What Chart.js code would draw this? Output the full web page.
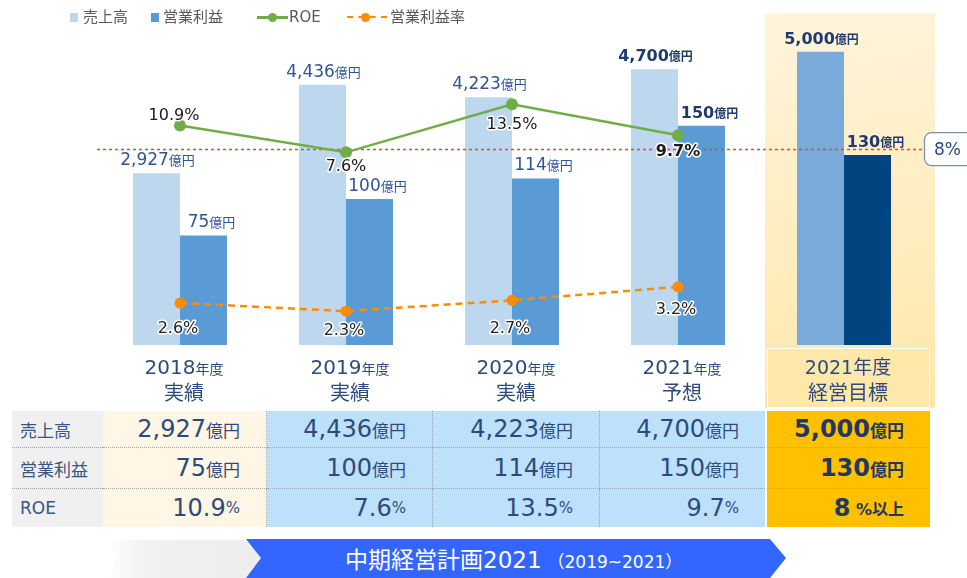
<!DOCTYPE html>
<html lang="ja">
<head>
<meta charset="utf-8">
<script src="https://cdn.jsdelivr.net/npm/chart.js@4.4.1/dist/chart.umd.min.js"></script>
<style>
  html, body { margin: 0; padding: 0; background: #fff; }
  body {
    width: 967px; height: 578px; position: relative; overflow: hidden;
    font-family: "DejaVu Sans", "Noto Sans CJK JP", sans-serif;
  }
  .abs { position: absolute; }
  #goalPanel {
    left: 765px; top: 13px; width: 170px; height: 395px;
    background: linear-gradient(170deg, #FFF4DC 0%, #FFEDC0 55%, #FFE7AC 100%);
  }
  #goalHead {
    left: 767px; top: 348px; width: 161px; height: 58px;
    background: #FFE8AA; border: 1.5px solid #fff;
  }
  #chartBox { left: 0; top: 0; width: 967px; height: 410px; }
  .lg { font-size: 15px; color: #595959; line-height: 18px; top: 8px; }
  .cell {
    box-sizing: border-box; display: flex; align-items: center;
    justify-content: flex-end; padding-right: 26px; color: #2E4A7D;
    white-space: nowrap;
  }
  .rowName { justify-content: flex-start; padding-left: 8px; font-size: 17px; color: #3A5582; }
</style>
</head>
<body>
<div id="goalPanel" class="abs"></div>
<div id="goalHead" class="abs"></div>

<div id="chartBox" class="abs"><canvas id="chart" width="967" height="410"></canvas></div>

<!-- legend -->
<div class="abs" style="left:70px;top:13px;width:8px;height:9px;background:#BDD7EE"></div>
<div class="abs lg" style="left:83px">売上高</div>
<div class="abs" style="left:151px;top:13px;width:8px;height:9px;background:#5B9BD5"></div>
<div class="abs lg" style="left:163px">営業利益</div>
<div class="abs" style="left:257px;top:16px;width:31px;height:2.5px;background:#70AD47"></div>
<div class="abs" style="left:268px;top:13px;width:9px;height:9px;border-radius:50%;background:#70AD47"></div>
<div class="abs lg" style="left:289px">ROE</div>
<div class="abs" style="left:347px;top:16px;width:40px;height:0;border-top:2.5px dashed #FF8C00"></div>
<div class="abs" style="left:361px;top:13px;width:9px;height:9px;border-radius:50%;background:#FF8C00"></div>
<div class="abs lg" style="left:390px">営業利益率</div>

<div id="table"></div>

<svg class="abs" style="left:0;top:530px" width="967" height="48">
  <defs>
    <linearGradient id="greyFade" x1="0" x2="1" y1="0" y2="0">
      <stop offset="0" stop-color="#ffffff"/>
      <stop offset="0.25" stop-color="#F1F1F1"/>
      <stop offset="1" stop-color="#EDEDED"/>
    </linearGradient>
  </defs>
  <polygon points="108,10 247,10 262,28 247,48 108,48 116,28" fill="url(#greyFade)"/>
  <polygon points="246,9 770,9 786,28 770,48 246,48 261,28" fill="#3366FF"/>
  <text x="345" y="38" fill="#fff" font-size="23" font-family="'DejaVu Sans','Noto Sans CJK JP',sans-serif">中期経営計画2021<tspan font-size="17" dx="6">（2019~2021）</tspan></text>
</svg>

<script>
const FF = '"DejaVu Sans", "Noto Sans CJK JP", sans-serif';

// data
const years = ['2018', '2019', '2020', '2021', '2021'];
const kinds = ['実績', '実績', '実績', '予想', '経営目標'];
const sales = [2927, 4436, 4223, 4700, 5000];          // 売上高 (億円)
const profit = [75, 100, 114, 150, 130];                // 営業利益 (億円)
const roe = [10.9, 7.6, 13.5, 9.7, null];               // ROE (%)
const margin = [2.6, 2.3, 2.7, 3.2, null];              // 営業利益率 (%)
const roeTarget = 8;                                    // 目標 ROE (%以上)

// styling per category
const emphasis = [false, false, false, true, true];
const roeLabelDy = [-6, 19, 25, 21];
const marginLabelDy = [30, 24, 33, 27];

const salesColors = ['#BDD7EE', '#BDD7EE', '#BDD7EE', '#BDD7EE', '#7AAAD9'];
const profitColors = ['#5B9BD5', '#5B9BD5', '#5B9BD5', '#5B9BD5', '#00457F'];

const fmt = (v) => v.toLocaleString('en-US');

function drawParts(ctx, parts, x, y, align) {
  let w = 0;
  parts.forEach((p) => {
    ctx.font = p.font;
    p.w = ctx.measureText(p.text).width;
    w += p.w;
  });
  let cx = align === 'center' ? x - w / 2 : x;
  ctx.textAlign = 'left';
  ctx.textBaseline = 'alphabetic';
  parts.forEach((p) => {
    ctx.font = p.font;
    if (p.halo) {
      ctx.strokeStyle = '#fff';
      ctx.lineWidth = p.halo;
      ctx.lineJoin = 'round';
      ctx.strokeText(p.text, cx, y);
    }
    ctx.fillStyle = p.color;
    ctx.fillText(p.text, cx, y);
    cx += p.w;
  });
}

const overlay = {
  id: 'overlay',
  afterDatasetDraw(chart, args) {
    // red 8% reference line, over the bars but under the lines
    if (args.index !== 2) return;
    const { ctx, chartArea } = chart;
    const y = Math.round(chart.scales.yRoe.getPixelForValue(roeTarget)) + 0.5;
    ctx.save();
    ctx.strokeStyle = '#FF3B30';
    ctx.lineWidth = 1.3;
    ctx.setLineDash([3, 3]);
    ctx.beginPath();
    ctx.moveTo(chartArea.left, y);
    ctx.lineTo(chartArea.right - 3, y);
    ctx.stroke();
    ctx.restore();
  },
  afterDatasetsDraw(chart) {
    const { ctx } = chart;
    const x = chart.scales.x;
    ctx.save();

    // 8% tag box
    const ty = chart.scales.yRoe.getPixelForValue(roeTarget);
    ctx.strokeStyle = '#8091AA';
    ctx.lineWidth = 1.3;
    ctx.beginPath();
    ctx.roundRect(924.5, ty - 16.5, 60, 33, 7);
    ctx.fillStyle = '#fff';
    ctx.fill();
    ctx.stroke();
    drawParts(ctx, [{ text: roeTarget + '%', font: '17px ' + FF, color: '#2E4A7D' }], 934, ty + 6, 'left');

    // bar value labels
    const salesMeta = chart.getDatasetMeta(2);
    const profitMeta = chart.getDatasetMeta(3);
    sales.forEach((v, i) => {
      const b = salesMeta.data[i];
      const em = emphasis[i];
      const col = em ? '#1F3B6E' : '#2F5597';
      drawParts(ctx, [
        { text: fmt(v), font: (em ? 'bold 16px ' : '17px ') + FF, color: col },
        { text: '億円', font: (em ? 'bold 12px ' : '13px ') + FF, color: col },
      ], b.x + 1, b.y - 8, 'center');
    });
    profit.forEach((v, i) => {
      const b = profitMeta.data[i];
      const em = emphasis[i];
      const col = em ? '#1F3B6E' : '#2F5597';
      drawParts(ctx, [
        { text: fmt(v), font: (em ? 'bold 16px ' : '17px ') + FF, color: col },
        { text: '億円', font: (em ? 'bold 12px ' : '13px ') + FF, color: col },
      ], b.x + 8, b.y - 8, 'center');
    });

    // line point labels
    const roeMeta = chart.getDatasetMeta(0);
    const marginMeta = chart.getDatasetMeta(1);
    roe.forEach((v, i) => {
      if (v === null) return;
      const p = roeMeta.data[i];
      drawParts(ctx, [{
        text: v.toFixed(1) + '%',
        font: (emphasis[i] ? 'bold 16px ' : '16px ') + FF,
        color: '#1A1A1A', halo: 3,
      }], p.x + (i === 0 ? -6 : 0), p.y + roeLabelDy[i], 'center');
    });
    margin.forEach((v, i) => {
      if (v === null) return;
      const p = marginMeta.data[i];
      drawParts(ctx, [{ text: v.toFixed(1) + '%', font: '16px ' + FF, color: '#222', halo: 3 }],
        p.x - 2, p.y + marginLabelDy[i], 'center');
    });

    // category labels
    years.forEach((yr, i) => {
      const cx = x.getPixelForValue(i);
      const goal = i === years.length - 1;
      drawParts(ctx, [
        { text: yr, font: (goal ? '19px ' : '20px ') + FF, color: '#2E4A7D' },
        { text: '年度', font: (goal ? '19px ' : '14px ') + FF, color: '#2E4A7D' },
      ], cx + 4, 374, 'center');
      drawParts(ctx, [{ text: kinds[i], font: '20px ' + FF, color: '#2E4A7D' }],
        cx + 4, 400, 'center');
    });
    ctx.restore();
  },
};

const ctx = document.getElementById('chart').getContext('2d');
const chart = new Chart(ctx, {
  type: 'bar',
  data: {
    labels: years.map((y, i) => y + '年度 ' + kinds[i]),
    datasets: [
      {
        type: 'line', label: 'ROE', data: roe, yAxisID: 'yRoe', order: 0,
        borderColor: '#70AD47', backgroundColor: '#70AD47', borderWidth: 2.5,
        pointRadius: 6, pointBorderWidth: 0, tension: 0,
      },
      {
        type: 'line', label: '営業利益率', data: margin, yAxisID: 'yMargin', order: 0,
        borderColor: '#FF8C00', backgroundColor: '#FF8C00', borderWidth: 2.5,
        borderDash: [7, 5], pointRadius: 5.5, pointBorderWidth: 0, tension: 0,
      },
      {
        label: '売上高', data: sales, yAxisID: 'ySales', order: 1,
        backgroundColor: salesColors, borderWidth: 0,
        barPercentage: 1, categoryPercentage: 0.566,
      },
      {
        label: '営業利益', data: profit, yAxisID: 'yProfit', order: 1,
        backgroundColor: profitColors, borderWidth: 0,
        barPercentage: 1, categoryPercentage: 0.566,
      },
    ],
  },
  options: {
    responsive: false,
    animation: false,
    layout: { padding: { left: 97, right: 40, top: 0, bottom: 65 } },
    plugins: {
      legend: { display: false },
      tooltip: { enabled: false },
    },
    scales: {
      x: { display: false, offset: true },
      ySales: { display: false, min: 0, max: 5780 },
      yProfit: { display: false, min: 0, max: 232 },
      yRoe: { display: false, min: -16.1, max: 25.6 },
      yMargin: { display: false, min: 1.047, max: 13.59 },
    },
  },
  plugins: [overlay],
});

// summary table below the chart
const rowNames = ['売上高', '営業利益', 'ROE'];
const rowTops = [411, 448, 489, 527];
const colEdges = [[103, 267], [267, 433], [433, 600], [600, 765], [767, 930]];
const colBg = ['#FFF6E6', '#BDE1FB', '#BDE1FB', '#BDE1FB', '#FFC000'];
const table = document.getElementById('table');

function cellHtml(r, i) {
  const em = i === colEdges.length - 1;
  const w = em ? 'font-weight:bold;color:#1F3864;' : '';
  const big = (t) => `<span style="font-size:24px;${w}">${t}</span>`;
  const small = (t, s) => `<span style="font-size:${s}px;${w}">${t}</span>`;
  if (r === 0) return big(fmt(sales[i])) + small('億円', 17);
  if (r === 1) return big(fmt(profit[i])) + small('億円', 17);
  if (em) return big(roeTarget) + small('&nbsp;%以上', 16);
  return big(roe[i].toFixed(1)) + small('%', 15);
}

rowNames.forEach((name, r) => {
  const top = rowTops[r];
  const h = rowTops[r + 1] - top;
  const bottomLine = r < 2 ? 'border-bottom:1px dotted #9AA3AE;' : '';
  table.insertAdjacentHTML('beforeend',
    `<div class="abs cell rowName" style="left:12px;top:${top}px;width:91px;height:${h}px;background:#F0F0F0;${bottomLine}">${name}</div>`);
  colEdges.forEach(([l, rr], i) => {
    const sideLine = i < 3 ? 'border-right:1px dotted #9AA3AE;' : '';
    table.insertAdjacentHTML('beforeend',
      `<div class="abs cell" style="left:${l}px;top:${top}px;width:${rr - l}px;height:${h}px;background:${colBg[i]};${bottomLine}${sideLine}">${cellHtml(r, i)}</div>`);
  });
});
</script>
</body>
</html>
